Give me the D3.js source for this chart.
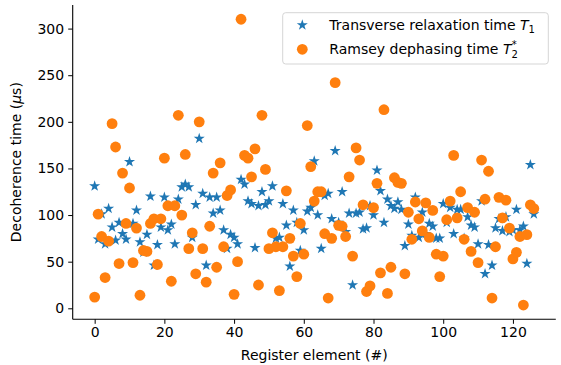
<!DOCTYPE html>
<html>
<head>
<meta charset="utf-8">
<script src="https://d3js.org/d3.v7.min.js"></script>
<style>
  body { margin: 0; background: #fff; }
  svg { display: block; font-family: "DejaVu Sans", sans-serif; }
</style>
</head>
<body>
<svg id="chart" width="561" height="365"></svg>
<script>
// valeurs (us), registre 0..126
const t1 = [131, 74, 101, 69, 107, 87, 73, 92, 80, 74, 157, 91, 105, 71, 60, 79, 120, 46, 68, 87,
  119, 84, 90, 69, 117, 130, 133, 130, 76, 111, 182, 123, 46, 119, 102, 119, 105, 84, 64, 79,
  76, 69, 138, 133, 115, 112, 65, 110, 125, 111, 115, 131, 75, 76, 112, 89, 45, 105, 92, 62,
  84, 104, 108, 158, 100, 64, 121, 123, 96, 169, 92, 125, 82, 102, 25, 102, 103, 85, 86, 110,
  100, 148, 126, 92, 117, 110, 107, 114, 106, 67, 90, 78, 119, 76, 103, 80, 91, 88, 75, 75,
  112, 92, 108, 80, 106, 106, 75, 98, 89, 87, 69, 115, 37, 68, 46, 86, 96, 83, 98, 82,
  84, 106, 84, 88, 48, 154, 101];
const t2 = [12, 101, 77, 33, 72, 198, 173, 48, 145, 91, 129, 49, 86, 14, 62, 61, 91, 96, 47, 96,
  161, 110, 29, 110, 207, 100, 165, 64, 81, 37, 200, 64, 28, 88, 145, 44, 156, 66, 121, 127,
  15, 50, 310, 164, 161, 141, 171, 25, 207, 149, 64, 81, 66, 19, 66, 126, 75, 56, 34, 91,
  58, 196, 152, 115, 125, 125, 80, 11, 75, 242, 89, 88, 77, 141, 56, 172, 159, 111, 18, 24,
  108, 134, 38, 213, 16, 44, 140, 135, 134, 37, 103, 74, 114, 96, 83, 113, 76, 105, 58, 34,
  56, 95, 115, 164, 97, 125, 74, 108, 61, 103, 49, 159, 117, 147, 11, 66, 119, 97, 116, 86,
  53, 60, 77, 3.5, 79, 111, 107];
const xTicks = [0, 20, 40, 60, 80, 100, 120];
const yTicks = [0, 50, 100, 150, 200, 250, 300];

const svg = d3.select("#chart");
const mLeft = 72.7, mRight = 555.8, mTop = 5, mBottom = 319.3;
const blue = "#1f77b4", orange = "#ff7f0e";
const fs = 14;

const x = d3.scaleLinear().domain([-6.3, 132.3]).range([mLeft, mRight]);
const y = d3.scaleLinear().domain([-11.8, 325.3]).range([mBottom, mTop]);

// axes
const xAxis = svg.append("g")
  .attr("transform", `translate(0,${mBottom})`)
  .call(d3.axisBottom(x).tickValues(xTicks).tickSize(4.5).tickPadding(3.5).tickSizeOuter(0));
const yAxis = svg.append("g")
  .attr("transform", `translate(${mLeft},0)`)
  .call(d3.axisLeft(y).tickValues(yTicks).tickSize(4.5).tickPadding(4).tickSizeOuter(0));
[xAxis, yAxis].forEach(g => {
  g.selectAll("text").attr("font-family", "DejaVu Sans").attr("font-size", fs).attr("fill", "#000");
  g.selectAll("line").attr("stroke", "#000").attr("stroke-width", 1);
  g.select(".domain").attr("stroke", "#000").attr("stroke-width", 1.1);
});
xAxis.select(".domain").attr("d", `M${mLeft},0H${mRight}`);
yAxis.select(".domain").attr("d", `M0,${mBottom}V${mTop}`);

// points : étoiles d'abord, cercles par-dessus
const star = d3.symbol().type(d3.symbolStar).size(38);
svg.append("g").selectAll("path")
  .data(t1)
  .join("path")
  .attr("d", star)
  .attr("transform", (d, i) => `translate(${x(i)},${y(d)})`)
  .attr("fill", blue);

svg.append("g").selectAll("circle")
  .data(t2)
  .join("circle")
  .attr("cx", (d, i) => x(i))
  .attr("cy", d => y(d))
  .attr("r", 5.4)
  .attr("fill", orange);

// titres des axes
svg.append("text")
  .attr("x", (mLeft + mRight) / 2)
  .attr("y", 360)
  .attr("text-anchor", "middle")
  .attr("font-size", fs)
  .text("Register element (#)");

const yl = svg.append("text")
  .attr("transform", `translate(21,${(mTop + mBottom) / 2}) rotate(-90)`)
  .attr("text-anchor", "middle")
  .attr("font-size", fs);
yl.append("tspan").text("Decoherence time (");
yl.append("tspan").attr("font-style", "italic").text("μ");
yl.append("tspan").text("s)");

// légende
const leg = svg.append("g");
leg.append("rect")
  .attr("x", 282.7).attr("y", 12.7)
  .attr("width", 265.6).attr("height", 51.3)
  .attr("rx", 3)
  .attr("fill", "#fff").attr("fill-opacity", 0.8)
  .attr("stroke", "#d5d5d5").attr("stroke-width", 1);

leg.append("path")
  .attr("d", star)
  .attr("transform", "translate(302.3,25)")
  .attr("fill", blue);
leg.append("circle")
  .attr("cx", 302.3).attr("cy", 49.3).attr("r", 5.4)
  .attr("fill", orange);

const l1 = leg.append("text").attr("x", 329.3).attr("y", 30).attr("font-size", fs);
l1.append("tspan").text("Transverse relaxation time ");
l1.append("tspan").attr("font-style", "italic").text("T");
l1.append("tspan").attr("font-size", 10).attr("dy", 3).text("1");

const l2 = leg.append("text").attr("x", 329.3).attr("y", 54.3).attr("font-size", fs);
l2.append("tspan").text("Ramsey dephasing time ");
l2.append("tspan").attr("font-style", "italic").text("T");
l2.append("tspan").attr("font-size", 10).attr("dy", 3.5).text("2");
l2.append("tspan").attr("font-size", 10).attr("dx", -6).attr("dy", -10).text("*");
</script>
</body>
</html>
